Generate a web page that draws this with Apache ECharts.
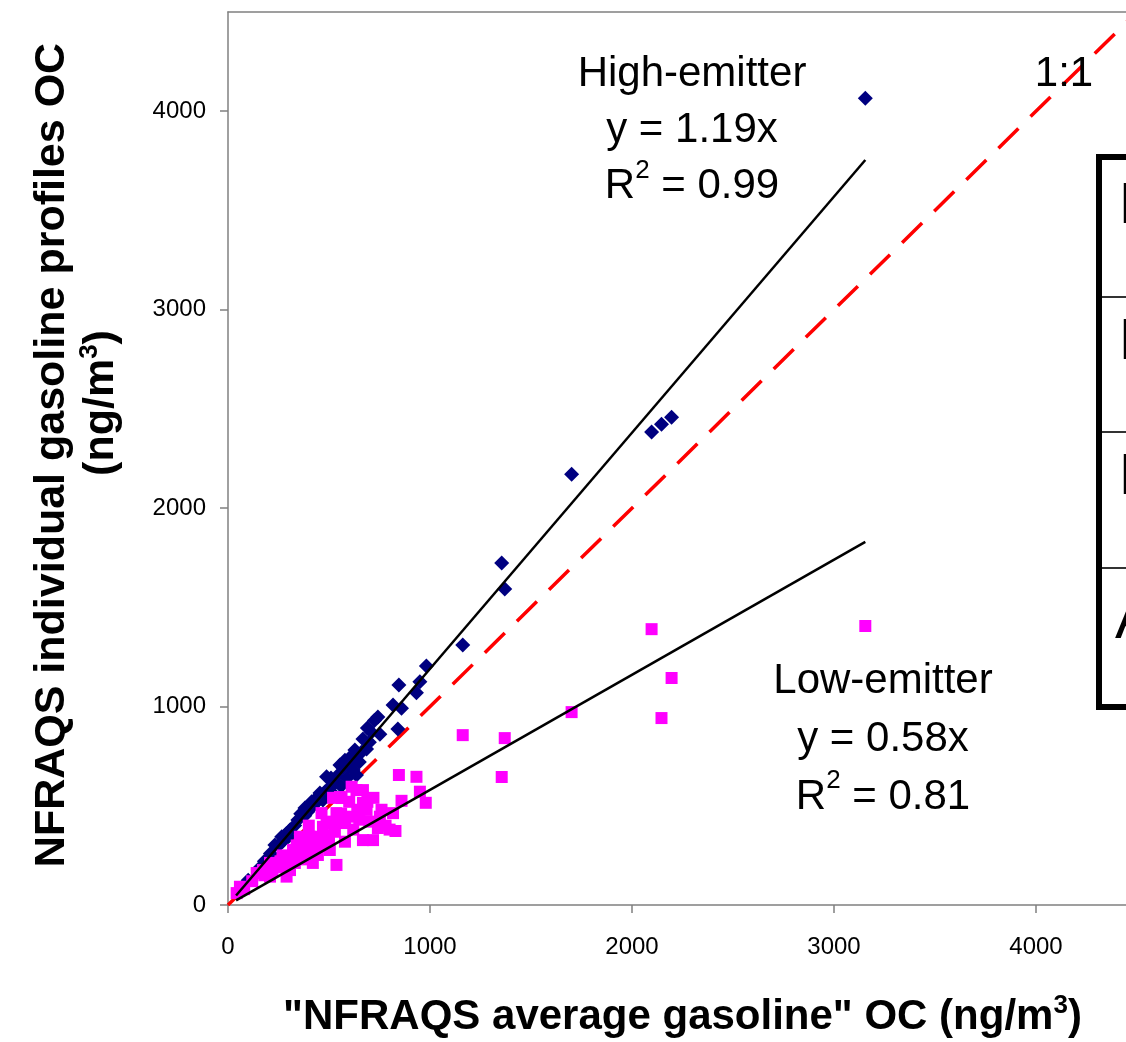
<!DOCTYPE html>
<html>
<head>
<meta charset="utf-8">
<script src="https://cdn.jsdelivr.net/npm/echarts@6/dist/echarts.min.js"></script>
<style>
html,body{margin:0;padding:0;background:#fff;}
#chart{width:1126px;height:1042px;}
</style>
</head>
<body>
<div id="chart"></div>
<script>
// ---- data (ng/m3) ----
const tickValues = [0, 1000, 2000, 3000, 4000];

// High-emitter profile vs NFRAQS average
const highAvgOC = [3155, 2196, 2146, 2097, 1701, 1355, 1370, 1162, 982, 950, 933, 846, 859, 817, 841,
  742, 725, 752, 690, 668, 628, 686, 579, 554, 620, 636, 600, 600, 650, 488, 529, 510, 455, 470, 500,
  414, 381, 440, 346, 360, 307, 290, 266, 232, 210, 180, 150, 100, 60, 520, 560, 590, 430, 395, 330,
  380, 420, 450, 480, 540, 570, 610, 660, 700, 710, 640, 300, 250, 270];
const highIndivOC = [4065, 2458, 2423, 2383, 2171, 1723, 1592, 1310, 1204, 1125, 1070, 1108, 992, 1008, 887,
  947, 930, 860, 892, 836, 781, 786, 730, 705, 680, 655, 740, 700, 720, 646, 614, 640, 564, 529, 590,
  520, 489, 540, 428, 460, 378, 360, 344, 302, 260, 220, 180, 125, 75, 560, 600, 640, 510, 470, 400,
  450, 500, 530, 570, 650, 690, 720, 770, 820, 870, 760, 345, 300, 320];

// Low-emitter profile vs NFRAQS average
const lowAvgOC = [3155, 2097, 2196, 2146, 1701, 1370, 1355, 1162, 979, 950, 933, 846, 859, 829, 817,
  752, 742, 718, 668, 668, 636, 612, 562, 668, 686, 612, 579, 537, 529, 579, 537, 504, 470, 438, 405,
  381, 445, 420, 356, 463, 488, 322, 331, 307, 282, 247, 208, 173, 142, 208, 290, 59, 43, 700, 640,
  600, 560, 520, 500, 470, 430, 400, 380, 350, 300, 260, 230, 180, 120, 80, 520, 554,
  620, 650, 690, 720, 760, 780, 800, 480, 450, 410, 390, 330, 340, 270, 250, 220, 160];
const lowIndivOC = [1406, 1390, 1144, 942, 972, 841, 645, 856, 515, 571, 646, 655, 525, 373, 463,
  445, 388, 327, 327, 579, 579, 596, 539, 514, 479, 445, 413, 463, 369, 319, 202, 277, 394, 344, 344,
  277, 252, 212, 344, 463, 413, 277, 212, 176, 243, 193, 212, 176, 161, 143, 143, 92, 60, 420, 480,
  520, 460, 420, 330, 300, 290, 400, 320, 260, 230, 220, 190, 150, 120, 80, 540, 544,
  380, 430, 520, 540, 480, 400, 380, 350, 320, 260, 230, 240, 300, 250, 200, 170, 160];

// fitted regression lines (through origin), drawn over the data range
const fitRange = [40, 3155];
const highSlope = 1.19;
const lowSlope = 0.58;
const oneToOne = [0, 4500];

const toPairs = (xs, ys) => xs.map((x, i) => [x, ys[i]]);
const fitLine = (s) => fitRange.map(x => [x, +(x * s).toFixed(1)]);

const FONT = '"Liberation Sans", Arial, Helvetica, sans-serif';
const supRich = {
  sup: { fontSize: 26, fontFamily: FONT, verticalAlign: 'top', lineHeight: 26, color: '#000' }
};
const plainNum = v => String(v);

const chart = echarts.init(document.getElementById('chart'), null, { renderer: 'canvas' });

const axisLineStyle = { color: '#808080', width: 1.5 };

const option = {
  backgroundColor: '#ffffff',
  animation: false,
  grid: {
    left: 228, top: 12, width: 909, height: 893,
    outerBoundsMode: 'none',
    containLabel: false,
    show: false
  },
  xAxis: [{
    type: 'value', min: 0, max: 4500, interval: 1000,
    splitLine: { show: false },
    axisLine: { show: true, onZero: false, lineStyle: axisLineStyle },
    axisTick: { show: true, inside: false, length: 8, customValues: tickValues, lineStyle: axisLineStyle },
    axisLabel: { customValues: tickValues, formatter: plainNum, fontSize: 24, fontFamily: FONT, color: '#000', margin: 30 },
    name: '"NFRAQS average gasoline" OC (ng/m{sup|3})',
    nameLocation: 'middle', nameGap: 88,
    nameTextStyle: {
      fontSize: 42, fontWeight: 'bold', fontFamily: FONT, color: '#000', lineHeight: 48,
      rich: { sup: { fontSize: 26, fontWeight: 'bold', fontFamily: FONT, verticalAlign: 'top', lineHeight: 26, color: '#000' } }
    }
  }, {
    type: 'value', position: 'top', min: 0, max: 4500,
    splitLine: { show: false },
    axisLine: { show: true, onZero: false, lineStyle: axisLineStyle },
    axisTick: { show: false }, axisLabel: { show: false }
  }],
  yAxis: {
    type: 'value', min: 0, max: 4500, interval: 1000,
    splitLine: { show: false },
    axisLine: { show: true, onZero: false, lineStyle: axisLineStyle },
    axisTick: { show: true, inside: false, length: 8, customValues: tickValues, lineStyle: axisLineStyle },
    axisLabel: { customValues: tickValues, formatter: plainNum, fontSize: 24, fontFamily: FONT, color: '#000', margin: 22 }
  },
  series: [
    {
      name: '1:1', type: 'line', data: oneToOne.map(v => [v, v]),
      symbol: 'none', z: 1,
      lineStyle: { color: '#ff0000', width: 3.5, type: [28, 17] }
    },
    {
      name: 'High-emitter', type: 'scatter', data: toPairs(highAvgOC, highIndivOC),
      symbol: 'diamond', symbolSize: 15, z: 2,
      itemStyle: { color: '#000080', opacity: 1 }
    },
    {
      name: 'Low-emitter', type: 'scatter', data: toPairs(lowAvgOC, lowIndivOC),
      symbol: 'rect', symbolSize: 12, z: 3,
      itemStyle: { color: '#ff00ff', opacity: 1 }
    },
    {
      name: 'High-emitter fit', type: 'line', data: fitLine(highSlope),
      symbol: 'none', z: 4, lineStyle: { color: '#000', width: 2.5 }
    },
    {
      name: 'Low-emitter fit', type: 'line', data: fitLine(lowSlope),
      symbol: 'none', z: 4, lineStyle: { color: '#000', width: 2.5 }
    }
  ],
  graphic: [
    // y-axis title
    {
      type: 'text', x: 52, y: 455, rotation: Math.PI / 2, z: 10,
      style: {
        text: 'NFRAQS individual gasoline profiles OC',
        font: 'bold 43px ' + FONT, fill: '#000', align: 'center', verticalAlign: 'middle'
      }
    },
    {
      type: 'text', x: 101, y: 403, rotation: Math.PI / 2, z: 10,
      style: {
        text: '(ng/m{sup|3})',
        font: 'bold 43px ' + FONT, fill: '#000', align: 'center', verticalAlign: 'middle',
        lineHeight: 48,
        rich: { sup: { fontSize: 26, fontWeight: 'bold', fontFamily: FONT, verticalAlign: 'top', lineHeight: 26, fill: '#000' } }
      }
    },
    // annotations
    {
      type: 'text', x: 692, y: 130, z: 10,
      style: {
        text: 'High-emitter\ny = 1.19x\nR{sup|2} = 0.99',
        font: '42px ' + FONT, fill: '#000', align: 'center', verticalAlign: 'middle',
        lineHeight: 56, rich: supRich
      }
    },
    {
      type: 'text', x: 883, y: 739, z: 10,
      style: {
        text: 'Low-emitter\ny = 0.58x\nR{sup|2} = 0.81',
        font: '42px ' + FONT, fill: '#000', align: 'center', verticalAlign: 'middle',
        lineHeight: 58, rich: supRich
      }
    },
    {
      type: 'text', x: 1064, y: 74, z: 10,
      style: { text: '1:1', font: '42px ' + FONT, fill: '#000', align: 'center', verticalAlign: 'middle' }
    },
    // boxed key at right (clipped by the page edge)
    {
      type: 'rect', z: 10,
      shape: { x: 1099, y: 157, width: 200, height: 550 },
      style: { fill: '#fff', stroke: '#000', lineWidth: 6 }
    },
    { type: 'line', z: 11, shape: { x1: 1102, y1: 297, x2: 1130, y2: 297 }, style: { stroke: '#333', lineWidth: 2 } },
    { type: 'line', z: 11, shape: { x1: 1102, y1: 432, x2: 1130, y2: 432 }, style: { stroke: '#333', lineWidth: 2 } },
    { type: 'line', z: 11, shape: { x1: 1102, y1: 568, x2: 1130, y2: 568 }, style: { stroke: '#333', lineWidth: 2 } },
    { type: 'text', z: 11, x: 1119, y: 207, style: { text: 'P', font: '58px ' + FONT, fill: '#000', align: 'left', verticalAlign: 'middle' } },
    { type: 'text', z: 11, x: 1119, y: 343, style: { text: 'P', font: '58px ' + FONT, fill: '#000', align: 'left', verticalAlign: 'middle' } },
    { type: 'text', z: 11, x: 1119, y: 478, style: { text: 'P', font: '58px ' + FONT, fill: '#000', align: 'left', verticalAlign: 'middle' } },
    { type: 'text', z: 11, x: 1115, y: 622, style: { text: 'A', font: '58px ' + FONT, fill: '#000', align: 'left', verticalAlign: 'middle' } }
  ]
};

chart.setOption(option);
</script>
</body>
</html>
